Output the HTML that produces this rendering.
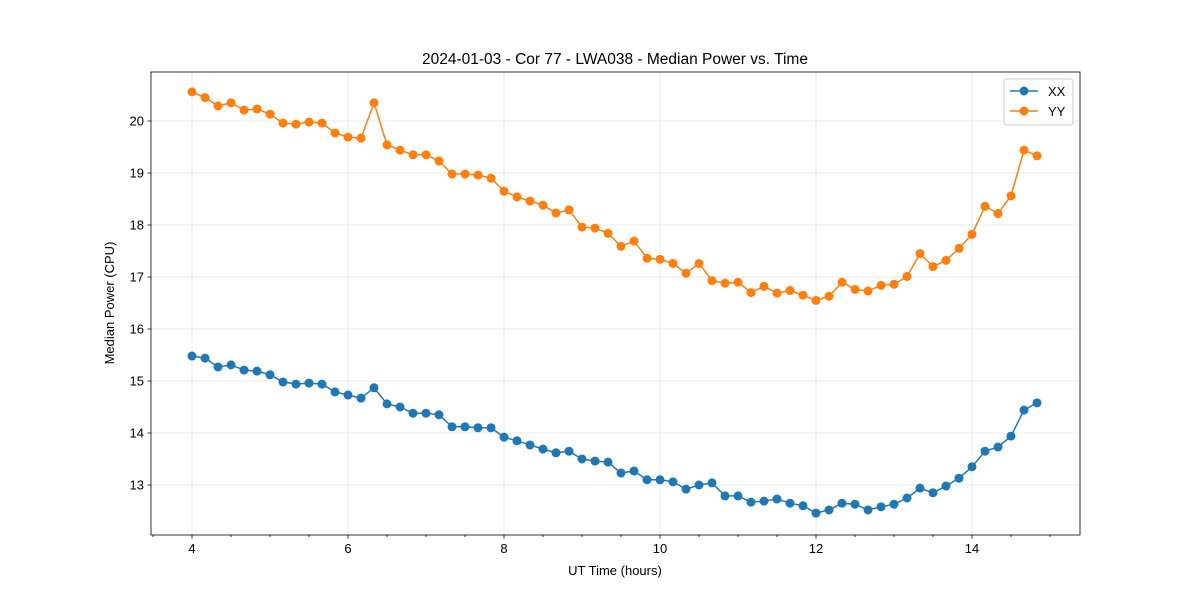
<!DOCTYPE html>
<html><head><meta charset="utf-8"><style>
body{margin:0;background:#fff;font-family:"Liberation Sans","DejaVu Sans",sans-serif}
</style></head><body>
<svg id="chart" width="1200" height="600" xmlns="http://www.w3.org/2000/svg" font-family="Liberation Sans, DejaVu Sans, sans-serif"></svg>
<script>
const times = Array.from({length:66},(_,k)=>4+k/6);
const xxValues=[15.48,15.44,15.27,15.31,15.21,15.19,15.12,14.98,14.94,14.96,14.94,14.79,14.73,14.67,14.87,14.56,14.50,14.38,14.38,14.35,14.12,14.12,14.10,14.10,13.92,13.85,13.77,13.69,13.62,13.65,13.50,13.46,13.44,13.23,13.27,13.10,13.10,13.06,12.92,13.00,13.04,12.79,12.79,12.67,12.69,12.73,12.65,12.60,12.46,12.52,12.65,12.63,12.52,12.58,12.63,12.75,12.94,12.85,12.98,13.13,13.35,13.65,13.73,13.94,14.44,14.58];
const yyValues=[20.56,20.45,20.29,20.35,20.21,20.23,20.13,19.96,19.94,19.98,19.96,19.77,19.69,19.67,20.35,19.54,19.44,19.35,19.35,19.23,18.98,18.98,18.96,18.90,18.65,18.54,18.46,18.38,18.23,18.29,17.96,17.94,17.84,17.59,17.69,17.36,17.34,17.26,17.07,17.26,16.93,16.88,16.90,16.70,16.82,16.69,16.74,16.65,16.55,16.63,16.90,16.76,16.73,16.84,16.86,17.01,17.45,17.20,17.32,17.55,17.82,18.36,18.22,18.56,19.44,19.33];
const xTicks=[4,6,8,10,12,14];
const yTicks=[13,14,15,16,17,18,19,20];
const L=151,R=1080,T=72,B=535;
const sx=v=>192+(v-4)*78;
const sy=v=>485-(v-13)*52;
const svg=document.getElementById('chart');
const NS='http://www.w3.org/2000/svg';
function mk(tag,attrs,parent){const e=document.createElementNS(NS,tag);for(const k in attrs)e.setAttribute(k,attrs[k]);(parent||svg).appendChild(e);return e;}
// grid
const grid=mk('g',{});


xTicks.forEach(t=>mk('line',{x1:sx(t),x2:sx(t),y1:T,y2:B,stroke:'#b0b0b0','stroke-width':0.8,'stroke-opacity':0.35},grid));
yTicks.forEach(t=>mk('line',{x1:L,x2:R,y1:sy(t),y2:sy(t),stroke:'#b0b0b0','stroke-width':0.8,'stroke-opacity':0.35},grid));
// ticks
const xa=mk('g',{});


for(let m=3.5;m<=15.01;m+=0.5){if(sx(m)<L||sx(m)>R)continue;const major=xTicks.includes(m);mk('line',{x1:sx(m),x2:sx(m),y1:B,y2:B+(major?3.5:2),stroke:'#000','stroke-width':0.8},xa);}
xTicks.forEach(t=>{const tx=mk('text',{x:sx(t),y:B+18,'text-anchor':'middle','font-size':13},xa);tx.textContent=t;});
const ya=mk('g',{});


yTicks.forEach(t=>{mk('line',{x1:L-3.5,x2:L,y1:sy(t),y2:sy(t),stroke:'#000','stroke-width':0.8},ya);const tx=mk('text',{x:L-7,y:sy(t)+4.5,'text-anchor':'end','font-size':13},ya);tx.textContent=t;});
// series
function series(vals,color,name){const g=mk('g',{});


mk('polyline',{points:vals.map((v,i)=>sx(times[i])+','+sy(v)).join(' '),fill:'none',stroke:color,'stroke-width':1.5},g);
vals.forEach((v,i)=>{const c=mk('circle',{cx:sx(times[i]),cy:sy(v),r:4.5,fill:color},g);

});}
series(xxValues,'#1f77b4','series-xx');
series(yyValues,'#ff7f0e','series-yy');
// frame
const fr=mk('rect',{x:L,y:T,width:R-L,height:B-T,fill:'none',stroke:'#000','stroke-width':0.8});


// labels
const ti=mk('text',{x:615,y:64,'text-anchor':'middle','font-size':15.5});ti.textContent='2024-01-03 - Cor 77 - LWA038 - Median Power vs. Time';

const xl=mk('text',{x:615,y:575,'text-anchor':'middle','font-size':13});xl.textContent='UT Time (hours)';

const yl=mk('text',{x:114,y:303,'text-anchor':'middle','font-size':13,transform:'rotate(-90 114 303)'});yl.textContent='Median Power (CPU)';

// legend
const lg=mk('g',{});


mk('rect',{x:1004,y:79,width:69,height:46,rx:3,fill:'#fff','fill-opacity':0.8,stroke:'#ccc'},lg);
[['XX','#1f77b4',91],['YY','#ff7f0e',111]].forEach(([n,c,y])=>{const e=mk('g',{},lg);


mk('line',{x1:1010,x2:1038,y1:y,y2:y,stroke:c,'stroke-width':1.5},e);mk('circle',{cx:1024,cy:y,r:4.5,fill:c},e);
const t=mk('text',{x:1048,y:y+5,'font-size':13},e);t.textContent=n;});
</script>
</body></html>
